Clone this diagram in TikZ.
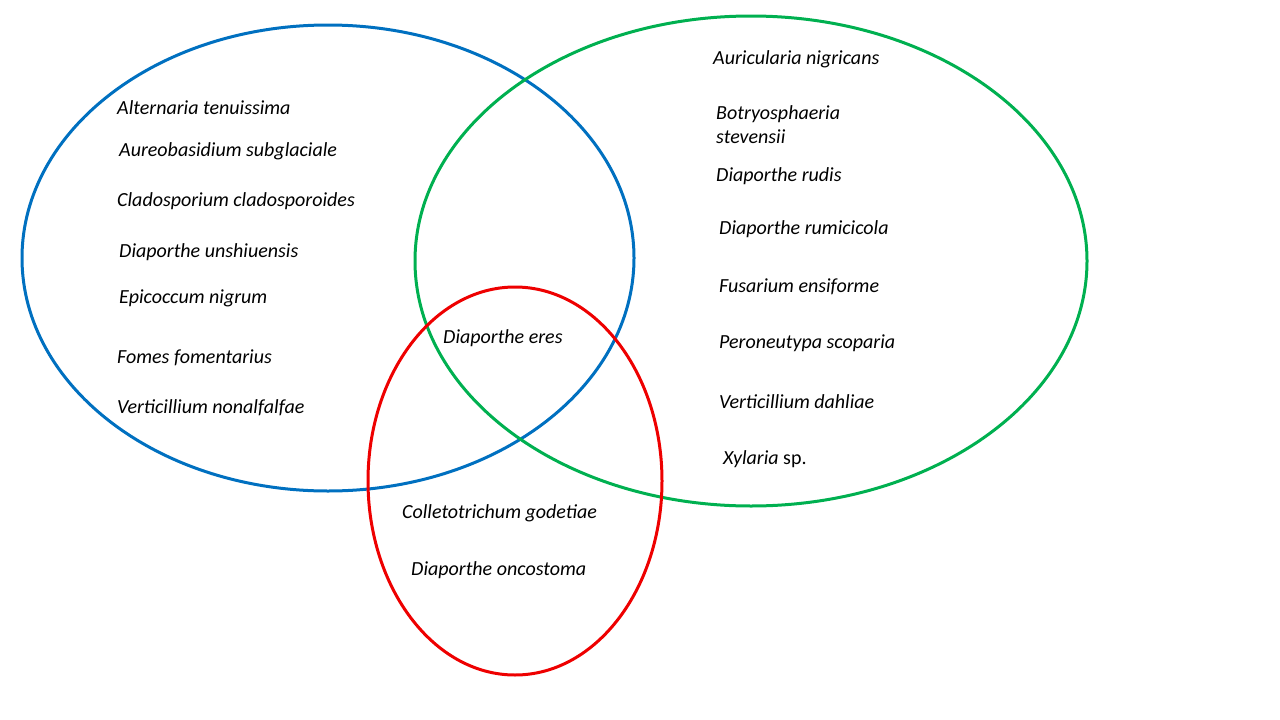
\documentclass[tikz,border=0pt]{standalone}
\usepackage{fontspec}
\setmainfont{Carlito}
\definecolor{SetBlue}{RGB}{0, 112, 192}
\definecolor{SetGreen}{RGB}{0, 176, 80}
\definecolor{SetRed}{RGB}{238, 0, 0}
\usetikzlibrary{positioning}

\begin{document}
\begin{tikzpicture}[x=1pt, y=-1pt,
        circ/.style={line width=3pt},
        species/.style={anchor=west, inner sep=0pt, font=\fontsize{20}{24}\selectfont\itshape, align=left}
    ]
        \useasboundingbox (0,0) rectangle (1280,720);
        \draw[circ, SetBlue] (328,258) ellipse [x radius=306, y radius=233];
        \draw[circ, SetGreen] (751,261) ellipse [x radius=336, y radius=245];
        \draw[circ, SetRed] (515,481) ellipse [x radius=147, y radius=194];

        \node[species] (alt) at (117,108) {Alternaria tenuissima};
        \node[species] (aur) at (119,151) {Aureobasidium subglaciale};
        \node[species] (cla) at (117,201) {Cladosporium cladosporoides};
        \node[species] (dun) at (119,252) {Diaporthe unshiuensis};
        \node[species] (epi) at (119,298) {Epicoccum nigrum};
        \node[species] (fom) at (117,358) {Fomes fomentarius};
        \node[species] (vno) at (117,408) {Verticillium nonalfalfae};

        \node[species] (ere) at (443,338) {Diaporthe eres};

        \node[species] (auri) at (713,59) {Auricularia nigricans};
        \node[species] (bot) at (716,125) {Botryosphaeria\\stevensii};
        \node[species] (rud) at (716,176) {Diaporthe rudis};
        \node[species] (rum) at (719,229) {Diaporthe rumicicola};
        \node[species] (fus) at (719,287) {Fusarium ensiforme};
        \node[species] (per) at (719,343) {Peroneutypa scoparia};
        \node[species] (vda) at (719,402) {Verticillium dahliae};
        \node[species] (xyl) at (723,459) {Xylaria \upshape sp.};

        \node[species] (col) at (402,513) {Colletotrichum godetiae};
        \node[species] (onc) at (411,570) {Diaporthe oncostoma};
    \end{tikzpicture}
\end{document}
